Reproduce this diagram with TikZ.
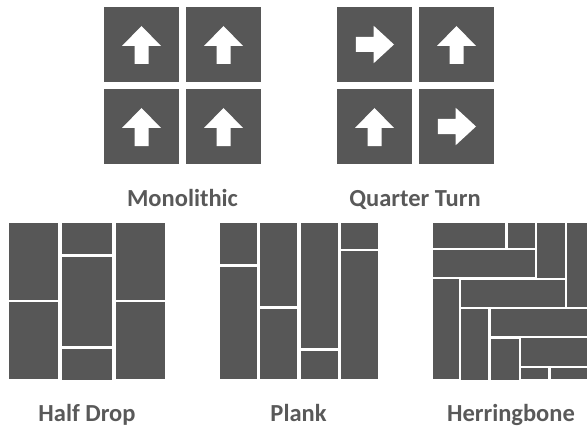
\documentclass[tikz,border=0pt]{standalone}
\usepackage{fontspec}
\setmainfont{Carlito}
\definecolor{tilegray}{HTML}{575757}
\definecolor{labelgray}{HTML}{595959}
\newcommand\arrowup[2]{\fill[white,shift={(#1,#2)}] (0,-18.5) -- (19.5,1.5) -- (7,1.5) -- (7,19.5) -- (-7,19.5) -- (-7,1.5) -- (-19.5,1.5) -- cycle;}
\newcommand\arrowright[2]{\fill[white,shift={(#1,#2)}] (19.5,0) -- (-0.8,18.7) -- (-0.8,7.5) -- (-18.6,7.5) -- (-18.6,-7.5) -- (-0.8,-7.5) -- (-0.8,-18.7) -- cycle;}
\newcommand\tile[4]{\fill[tilegray] (#1,#2) rectangle (#3,#4);}
\begin{document}
\begin{tikzpicture}[x=1pt,y=-1pt,
  lbl/.style={font=\bfseries\fontsize{24.5}{28}\selectfont,text=labelgray,anchor=base,inner sep=0pt}]
\useasboundingbox (0,0) rectangle (587,428);
% Monolithic
\tile{104}{7}{179}{82}\tile{186}{7}{261}{82}
\tile{104}{89}{179}{164}\tile{186}{89}{261}{164}
\arrowup{141.5}{44.5}\arrowup{223.5}{44.5}
\arrowup{141.5}{126.5}\arrowup{223.5}{126.5}
% Quarter Turn
\tile{337}{7}{412}{82}\tile{419}{7}{494}{82}
\tile{337}{89}{412}{164}\tile{419}{89}{494}{164}
\arrowright{374.5}{44.5}\arrowup{456.5}{44.5}
\arrowup{374.5}{126.5}\arrowright{456.5}{126.5}
% Half Drop
\tile{9}{222.7}{58}{300}\tile{9}{302}{58}{379}
\tile{62}{222.7}{112}{253.7}\tile{62}{257}{112}{346}\tile{62}{348.7}{112}{380}
\tile{116}{222.7}{165}{300}\tile{116}{302}{165}{379}
% Plank
\tile{220}{222.7}{257}{263.7}\tile{220}{267}{257}{379}
\tile{260}{222.7}{297}{306}\tile{260}{309}{297}{379}
\tile{301}{222.7}{338}{347.7}\tile{301}{351}{338}{379}
\tile{341}{222.7}{378}{249}\tile{341}{251}{378}{379}
% Herringbone
\tile{432.7}{222.7}{505}{248}
\tile{507.7}{222.7}{535}{248}
\tile{537}{222.7}{565}{278}
\tile{567}{222.7}{587}{307}
\tile{432.7}{250}{535}{277}
\tile{432.7}{279}{459}{379}
\tile{461}{280}{565}{307}
\tile{461}{309}{488}{380}
\tile{491}{309}{587}{336}
\tile{491}{339}{519}{380}
\tile{521}{338}{587}{366}
\tile{521}{368}{548}{379}
\tile{551}{368}{587}{379}
% Labels
\node[lbl] (mono) at (182.5,206.5) {Monolithic};
\node[lbl] (quarter) at (415,206.5) {Quarter Turn};
\node[lbl] (halfdrop) at (87,421.5) {Half Drop};
\node[lbl] (plank) at (298.5,421.5) {Plank};
\node[lbl] (herring) at (511,421.5) {Herringbone};
\end{tikzpicture}
\end{document}
